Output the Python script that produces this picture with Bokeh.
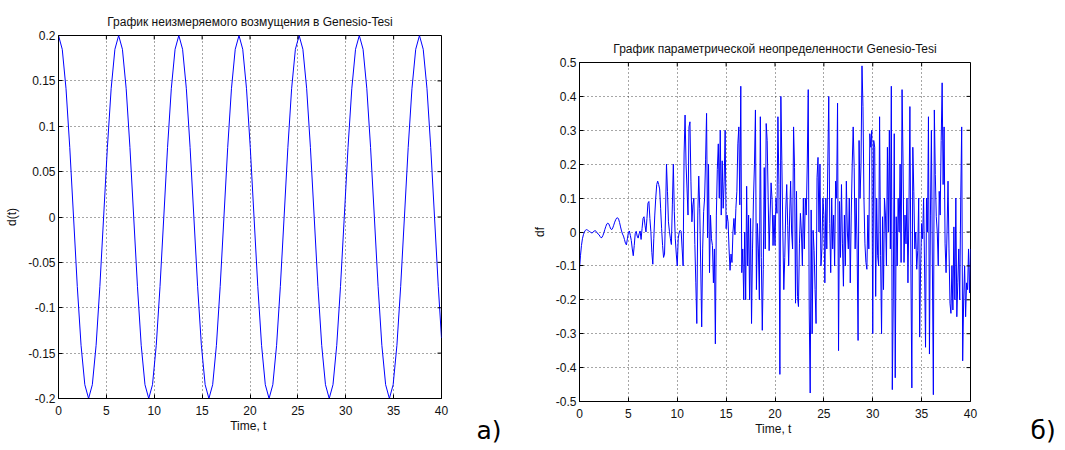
from bokeh.plotting import figure
from bokeh.layouts import row, column
from bokeh.models import Range1d, FixedTicker, Label
from bokeh.embed import file_html
from bokeh.resources import INLINE

# ---------------- data ----------------
# panel а): unmeasured disturbance d(t)
t_dist = [0.000, 0.393, 0.785, 1.178, 1.571, 1.963, 2.356, 2.749, 3.142, 3.534,
          3.927, 4.320, 4.712, 5.105, 5.498, 5.890, 6.283, 6.676, 7.069, 7.461,
          7.854, 8.247, 8.639, 9.032, 9.425, 9.817, 10.210, 10.603, 10.996, 11.388,
          11.781, 12.174, 12.566, 12.959, 13.352, 13.744, 14.137, 14.530, 14.923, 15.315,
          15.708, 16.101, 16.493, 16.886, 17.279, 17.671, 18.064, 18.457, 18.850, 19.242,
          19.635, 20.028, 20.420, 20.813, 21.206, 21.598, 21.991, 22.384, 22.777, 23.169,
          23.562, 23.955, 24.347, 24.740, 25.133, 25.525, 25.918, 26.311, 26.704, 27.096,
          27.489, 27.882, 28.274, 28.667, 29.060, 29.452, 29.845, 30.238, 30.631, 31.023,
          31.416, 31.809, 32.201, 32.594, 32.987, 33.379, 33.772, 34.165, 34.558, 34.950,
          35.343, 35.736, 36.128, 36.521, 36.914, 37.306, 37.699, 38.092, 38.485, 38.877,
          39.270, 39.663, 40.000]
d_dist = [0.2, 0.1848, 0.1414, 0.0765, 0.0, -0.0765, -0.1414, -0.1848,
          -0.2, -0.1848, -0.1414, -0.0765, 0.0, 0.0765, 0.1414, 0.1848,
          0.2, 0.1848, 0.1414, 0.0765, 0.0, -0.0765, -0.1414, -0.1848,
          -0.2, -0.1848, -0.1414, -0.0765, 0.0, 0.0765, 0.1414, 0.1848,
          0.2, 0.1848, 0.1414, 0.0765, 0.0, -0.0765, -0.1414, -0.1848,
          -0.2, -0.1848, -0.1414, -0.0765, 0.0, 0.0765, 0.1414, 0.1848,
          0.2, 0.1848, 0.1414, 0.0765, 0.0, -0.0765, -0.1414, -0.1848,
          -0.2, -0.1848, -0.1414, -0.0765, 0.0, 0.0765, 0.1414, 0.1848,
          0.2, 0.1848, 0.1414, 0.0765, 0.0, -0.0765, -0.1414, -0.1848,
          -0.2, -0.1848, -0.1414, -0.0765, 0.0, 0.0765, 0.1414, 0.1848,
          0.2, 0.1848, 0.1414, 0.0765, 0.0, -0.0765, -0.1414, -0.1848,
          -0.2, -0.1848, -0.1414, -0.0765, 0.0, 0.0765, 0.1414, 0.1848,
          0.2, 0.1848, 0.1414, 0.0765, 0.0, -0.0765,
          -0.1334]

# panel б): parametric uncertainty df, sampled every 0.1 s
t_unc = [i / 10 for i in range(401)]
df_unc = [
    -0.11, -0.07, -0.04, -0.02, -0.008, 0.0, 0.005, 0.007, 0.006, 0.004,
    0.002, 0.0, -0.002, -0.003, 0.0, 0.003, 0.004, 0.002, -0.002, -0.006,
    -0.008, -0.013, -0.017, -0.016, -0.01, -0.002, 0.008, 0.017, 0.024, 0.026,
    0.024, 0.016, 0.009, 0.007, 0.012, 0.02, 0.029, 0.036, 0.041, 0.042,
    0.038, 0.028, 0.015, 0.003, -0.006, -0.012, -0.022, -0.033, -0.038, -0.02,
    -0.002, 0.003, -0.01, -0.025, -0.05, -0.07, -0.04, -0.005, 0.002, -0.012,
    -0.018, -0.005, 0.003, -0.022, 0.01, 0.04, 0.045, 0.02, 0.0, 0.04,
    0.085, 0.09, 0.04, 0.002, -0.06, -0.095, -0.02, 0.05, 0.1, 0.14,
    0.15, 0.14, 0.127, 0.07, 0.01, -0.04, -0.075, -0.065, 0.05, 0.2,
    0.12, 0.03, 0.002, -0.02, -0.037, 0.08, 0.2, 0.06, -0.02, -0.065,
    -0.1, -0.02, 0.0, 0.005, 0.002, -0.05, -0.1, 0.23, 0.345, 0.2,
    0.127, 0.05, 0.31, 0.325, 0.15, 0.03, 0.08, 0.1, -0.037, -0.15,
    -0.27, 0.05, 0.165, 0.07, -0.1, -0.28, -0.05, 0.06, 0.1, 0.215,
    0.35, -0.017, 0.2, -0.12, 0.05, -0.02, -0.04, -0.15, -0.05, -0.33,
    0.05, 0.185, 0.26, 0.1, 0.3, 0.05, 0.21, 0.07, 0.15, 0.3,
    0.01, 0.05, 0.03, -0.05, -0.113, -0.065, -0.09, 0.0, 0.04, -0.008,
    0.07, 0.12, 0.26, 0.31, 0.08, 0.43, -0.12, -0.05, -0.2, 0.0,
    -0.2, 0.135, -0.1, 0.05, -0.2, 0.04, -0.27, -0.05, 0.1, 0.2,
    0.36, -0.17, 0.025, -0.05, -0.2, 0.34, -0.075, -0.29, -0.11, 0.19,
    -0.05, 0.32, 0.27, 0.1, -0.055, 0.05, 0.145, 0.095, -0.04, 0.05,
    -0.04, 0.1, 0.055, 0.34, 0.14, -0.42, 0.4, 0.21, 0.005, -0.17,
    -0.075, 0.065, 0.14, 0.02, -0.1, 0.05, 0.15, 0.0, -0.05, 0.31,
    0.19, -0.21, 0.12, -0.19, -0.22, -0.035, 0.055, 0.0, -0.1, 0.1,
    -0.05, 0.1, 0.05, 0.2, 0.42, -0.23, -0.475, 0.065, -0.3, 0.005,
    -0.055, -0.17, -0.27, 0.16, 0.22, 0.0, 0.2, -0.1, -0.05, 0.1,
    0.05, -0.15, 0.1, -0.05, 0.2, 0.4, 0.025, -0.12, 0.1, -0.05,
    0.05, -0.1, 0.15, 0.1, 0.38, -0.35, 0.09, -0.075, 0.14, -0.035,
    -0.16, 0.05, -0.1, 0.15, 0.0, -0.05, 0.1, -0.15, 0.05, 0.2,
    0.31, 0.19, -0.05, 0.1, -0.05, -0.32, 0.27, 0.1, 0.2, 0.49,
    0.37, 0.1, -0.035, -0.09, -0.11, 0.05, -0.05, 0.29, 0.25, 0.3,
    -0.3, 0.27, 0.25, -0.19, 0.1, -0.07, -0.1, 0.34, -0.07, -0.3,
    0.045, -0.17, 0.1, 0.05, -0.1, 0.25, 0.0, 0.3, -0.05, 0.43,
    -0.465, -0.2, 0.29, -0.43, 0.045, -0.1, 0.1, 0.0, 0.2, -0.09,
    0.42, 0.2, -0.09, 0.05, -0.035, 0.1, -0.15, 0.05, 0.37, -0.1,
    -0.46, 0.25, 0.12, -0.05, 0.0, -0.11, -0.055, 0.1, -0.31, -0.1,
    0.025, -0.02, 0.1, -0.1, -0.34, 0.1, 0.0, 0.34, -0.36, 0.05,
    0.3, -0.1, -0.48, 0.36, 0.17, 0.045, 0.0, -0.1, 0.12, 0.05,
    0.27, 0.44, 0.14, 0.31, -0.035, -0.12, 0.0, 0.15, -0.05, -0.21,
    -0.24, -0.1, -0.23, 0.015, -0.2, 0.1, -0.25, -0.15, -0.05, -0.2,
    0.1, 0.31, -0.38, -0.2, -0.1, -0.25, -0.15, -0.17, -0.05, -0.18,
    -0.05,
]

x_ticks = [0, 5, 10, 15, 20, 25, 30, 35, 40]
x_labels = ["0", "5", "10", "15", "20", "25", "30", "35", "40"]
y_ticks_a = [-0.2, -0.15, -0.1, -0.05, 0, 0.05, 0.1, 0.15, 0.2]
y_labels_a = ["-0.2", "-0.15", "-0.1", "-0.05", "0", "0.05", "0.1", "0.15", "0.2"]
y_ticks_b = [-0.5, -0.4, -0.3, -0.2, -0.1, 0, 0.1, 0.2, 0.3, 0.4, 0.5]
y_labels_b = ["-0.5", "-0.4", "-0.3", "-0.2", "-0.1", "0", "0.1", "0.2", "0.3", "0.4", "0.5"]

title_a = "График неизмеряемого возмущения в Genesio-Tesi"
title_b = "График параметрической неопределенности Genesio-Tesi"
xlabel = "Time,  t"
ylabel_a = "d(t)"
ylabel_b = "df"
tag_a = "а)"
tag_b = "б)"

FONT = "Liberation Sans"
LINE = "#0000ff"
H = 448


def style(p, yticks, ylabels, ylab, frame_w, frame_h):
    p.background_fill_color = "white"
    p.border_fill_color = "white"
    p.outline_line_color = "black"
    p.outline_line_width = 1
    p.title.align = "center"
    p.title.text_font = FONT
    p.title.text_font_size = "12px"
    p.title.text_font_style = "normal"
    p.title.text_color = "#111111"
    p.title.standoff = 13
    for ax, ticks, labels in ((p.xaxis[0], x_ticks, x_labels), (p.yaxis[0], yticks, ylabels)):
        ax.ticker = FixedTicker(ticks=ticks)
        ax.major_label_overrides = {t: l for t, l in zip(ticks, labels)}
        ax.major_tick_in = 4
        ax.major_tick_out = 0
        ax.minor_tick_line_color = None
        ax.axis_line_color = "black"
        ax.major_tick_line_color = "black"
        ax.major_label_text_font = FONT
        ax.major_label_text_font_size = "12px"
        ax.major_label_text_color = "#111111"
        ax.axis_label_text_font = FONT
        ax.axis_label_text_font_size = "12px"
        ax.axis_label_text_font_style = "normal"
        ax.axis_label_text_color = "#111111"
    p.xaxis[0].axis_label = xlabel
    p.xaxis[0].major_label_standoff = 7
    p.xaxis[0].axis_label_standoff = 1
    p.yaxis[0].axis_label = ylab
    p.yaxis[0].major_label_standoff = 3
    p.yaxis[0].axis_label_standoff = 6
    p.xgrid.ticker = FixedTicker(ticks=x_ticks)
    p.ygrid.ticker = FixedTicker(ticks=yticks)
    p.grid.grid_line_color = "black"
    p.grid.grid_line_alpha = 0.7
    p.grid.grid_line_dash = "1 3"
    p.grid.grid_line_width = 1
    # inward ticks on the top and right edges of the box (4 px long)
    xr, yr = p.x_range, p.y_range
    dy = (yr.end - yr.start) * 4 / frame_h
    dx = (xr.end - xr.start) * 4 / frame_w
    p.segment(x0=x_ticks, y0=[yr.end] * len(x_ticks), x1=x_ticks,
              y1=[yr.end - dy] * len(x_ticks), line_color="black", line_width=1)
    p.segment(x0=[xr.end] * len(yticks), y0=yticks, x1=[xr.end - dx] * len(yticks),
              y1=yticks, line_color="black", line_width=1)


def tag_fig(w, text, x, y):
    t = figure(width=w, height=H, x_range=Range1d(0, w), y_range=Range1d(0, H),
               output_backend="svg", toolbar_location=None,
               min_border_left=0, min_border_right=0, min_border_top=0, min_border_bottom=0)
    t.axis.visible = False
    t.grid.visible = False
    t.outline_line_color = None
    t.background_fill_color = "white"
    t.border_fill_color = "white"
    t.add_layout(Label(x=x, y=y, text=text, text_font="DejaVu Sans",
                       text_font_size="25px", text_color="black", text_baseline="bottom"))
    return t


p1 = figure(width=470, height=H, x_range=Range1d(0, 40), y_range=Range1d(-0.2, 0.2),
            output_backend="svg", toolbar_location=None, title=title_a,
            min_border_left=58, min_border_right=29, min_border_top=35, min_border_bottom=50)
p1.line(t_dist, d_dist, line_color=LINE, line_width=1)
style(p1, y_ticks_a, y_labels_a, ylabel_a, 383, 363)

p2 = figure(width=500, height=H, x_range=Range1d(0, 40), y_range=Range1d(-0.5, 0.5),
            output_backend="svg", toolbar_location=None, title=title_b,
            min_border_left=64, min_border_right=45, min_border_top=62, min_border_bottom=47)
p2.line(t_unc, df_unc, line_color=LINE, line_width=1)
style(p2, y_ticks_b, y_labels_b, ylabel_b, 391, 339)

tag1 = tag_fig(45, tag_a, 6, 4)
tag2 = tag_fig(48, tag_b, 15, 4)

layout = row(column(p1), column(tag1), column(p2), column(tag2))
open("out.html", "w").write(file_html(layout, INLINE))
